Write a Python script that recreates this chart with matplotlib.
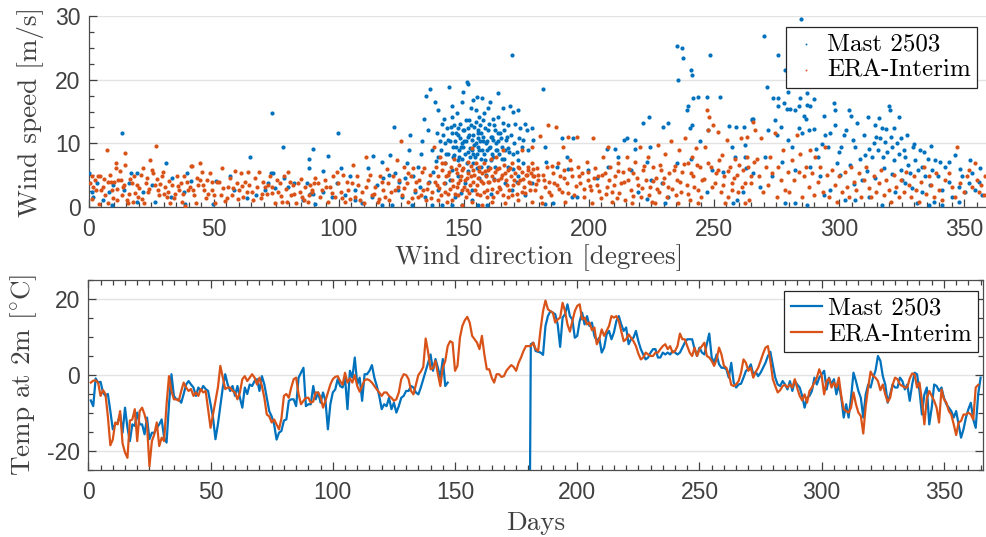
import numpy as np
import matplotlib
matplotlib.use("Agg")
import matplotlib.pyplot as plt
from matplotlib.ticker import MultipleLocator


OUTPUT_FILE = "out.png"

MAST_COLOR = "#0072BD"
ERA_COLOR = "#D95319"
TEXT_COLOR = "#404040"
GRID_COLOR = "#e3e3e3"

nan = float("nan")

# wind direction [deg], wind speed [m/s]
MAST_WIND = [
    (0.1, 5.3), (1.2, 2.4), (1.8, 1.5), (3.2, 3.7), (5.8, 1.1), (8.1, 2.3), (9.2, 0.3), (9.8, 3.5),
    (13.2, 11.7), (14.2, 2.7), (16.2, 3.8), (16.8, 5.3), (19.2, 5.3), (19.4, 0.8), (21.8, 2.4),
    (25.4, 3.5), (26.5, 0.8), (30.8, 6.9), (32.9, 1.5), (33.4, 4.5), (38.2, 2.4), (38.5, 0.4),
    (39.2, 5.3), (40.9, 4.1), (49.8, 0.4), (50.8, 4.1), (56.5, 4.9), (58.1, 2.7), (63.4, 1.4),
    (64.5, 7.9), (66.9, 1.9), (70.5, 2.7), (71.6, 3.7), (72.9, 5.3), (73.2, 14.7), (73.8, 5.3),
    (74.5, 3.0), (77.8, 9.5), (78.1, 4.6), (79.8, 3.2), (82.2, 3.8), (85.8, 1.1), (87.2, 3.7),
    (88.1, 7.5), (88.1, 6.1), (88.5, 2.0), (89.8, 9.1), (89.8, 2.0), (90.5, 0.4),
    (93.8, 5.7), (95.8, 8.0), (99.8, 11.7), (99.2, 3.7), (100.9, 6.1), (102.5, 1.9), (104.5, 4.8),
    (106.5, 1.1), (111.8, 6.1), (113.8, 8.0), (115.2, 3.5), (117.2, 7.1), (117.8, 4.5),
    (120.5, 8.2), (122.2, 12.5), (122.5, 5.3), (123.6, 2.7), (126.5, 4.5), (128.1, 9.0),
    (128.5, 11.3), (129.8, 4.8), (130.5, 2.4), (131.8, 6.3), (133.2, 10.3), (134.2, 13.9),
    (134.8, 17.4), (135.6, 12.1), (136.5, 18.5), (137.2, 9.0), (137.8, 5.5), (138.5, 16.5),
    (139.2, 11.6), (139.8, 15.3), (140.5, 10.3), (141.2, 13.1), (142.2, 13.9), (142.5, 6.9),
    (143.2, 12.4), (144.1, 18.9), (144.5, 10.3), (145.2, 14.2), (145.4, 15.8), (146.2, 12.9),
    (146.8, 9.5), (147.2, 14.7), (147.8, 11.3), (148.1, 9.0), (148.5, 13.1), (149.2, 16.5),
    (149.4, 10.0), (149.8, 18.1), (150.2, 12.1), (150.5, 8.4), (151.2, 19.7), (151.6, 11.0),
    (151.8, 19.3), (152.1, 13.7), (152.5, 9.2), (152.9, 15.5), (153.2, 10.5), (153.8, 16.8),
    (154.2, 12.6), (154.5, 7.9), (154.9, 15.2), (155.2, 17.3), (155.6, 11.6), (155.8, 9.5),
    (156.1, 14.2), (156.5, 12.9), (156.9, 7.6), (157.2, 17.1), (157.8, 10.3), (158.2, 14.7),
    (158.5, 12.4), (159.2, 9.0), (159.6, 15.5), (160.1, 13.1), (160.5, 16.5), (160.9, 11.0),
    (161.2, 8.4), (161.8, 13.9), (162.5, 12.1), (162.8, 10.0), (163.6, 14.2), (163.8, 17.9),
    (164.5, 11.6), (165.2, 9.5), (165.8, 15.5), (166.2, 12.1), (167.2, 11.0), (167.8, 9.2),
    (168.5, 15.8), (169.2, 23.9), (169.8, 15.0), (170.5, 13.1), (171.8, 15.2), (172.5, 12.4),
    (173.2, 9.5), (173.8, 10.5), (174.5, 13.1), (175.2, 12.1), (175.8, 9.0), (177.2, 12.4),
    (177.8, 10.5),
    (142.5, 10.0), (143.8, 8.4), (145.2, 11.6), (145.8, 7.9), (146.5, 10.3), (147.6, 7.4),
    (148.5, 10.8), (149.2, 7.6), (149.8, 9.5), (150.8, 10.3), (151.2, 6.9), (151.8, 12.4),
    (152.5, 7.9), (153.2, 9.0), (153.8, 11.3), (153.8, 6.9), (154.8, 10.0), (155.2, 8.4),
    (155.8, 12.1), (156.5, 10.3), (156.9, 6.3), (157.4, 9.0), (157.8, 11.0), (158.5, 7.4),
    (159.2, 10.3), (159.8, 6.3), (160.5, 9.5), (161.2, 11.0), (161.8, 7.9), (162.5, 6.3),
    (163.2, 9.0), (163.8, 10.3), (165.2, 7.6), (166.5, 9.0), (167.8, 6.3), (169.8, 8.4),
    (171.8, 7.4), (173.8, 6.9), (145.2, 5.8), (147.8, 4.8), (150.5, 3.7), (153.2, 2.7),
    (146.5, 1.6), (142.5, 3.7), (139.8, 2.7), (141.2, 0.3), (145.2, 0.3), (149.2, 0.3),
    (153.2, 1.1), (155.8, 0.3), (159.2, 0.3), (137.2, 0.3), (134.5, 1.6), (132.5, 3.2),
    (129.2, 0.3), (125.2, 1.6), (121.2, 0.3), (117.2, 0.3), (113.2, 1.6), (109.2, 0.6),
    (106.5, 2.7), (93.8, 2.4), (97.2, 1.6), (166.5, 3.7), (169.2, 2.7), (171.8, 4.8),
    (174.5, 1.9), (177.2, 3.7),
    (139.5, 7.9), (140.8, 9.0), (141.8, 11.3), (142.9, 8.4), (143.8, 10.5), (144.8, 12.6),
    (145.5, 9.5), (146.2, 8.2), (146.8, 11.6), (147.5, 12.4), (148.2, 7.9), (148.8, 9.5),
    (149.5, 12.1), (150.2, 10.3), (150.9, 13.6), (151.5, 8.6), (152.2, 11.3), (152.8, 12.9),
    (153.5, 8.4), (154.1, 9.7), (154.8, 13.4), (155.5, 10.8), (156.2, 8.9), (156.9, 11.6),
    (157.5, 13.7), (158.1, 8.4), (158.8, 10.0), (159.5, 12.1), (160.2, 9.2), (160.8, 7.4),
    (161.5, 10.5), (162.1, 12.9), (162.8, 8.9), (163.5, 11.6), (164.2, 8.4), (164.8, 10.8),
    (165.5, 13.2), (166.2, 7.6), (166.9, 10.5), (167.5, 12.9), (168.2, 8.6), (168.9, 11.3),
    (170.1, 10.0), (171.2, 8.6), (172.1, 10.8), (169.5, 6.0), (171.2, 3.9), (151.5, 5.6),
    (155.1, 6.2), (158.8, 5.0), (162.1, 4.4), (144.5, 4.2), (148.8, 2.2), (156.2, 4.6),
    (160.9, 2.0), (136.1, 3.9), (138.9, 7.2), (132.9, 8.4), (127.2, 6.9), (124.1, 3.9),
    (120.1, 5.0),
    (181.8, 18.5), (182.5, 9.5), (182.8, 7.1), (187.2, 6.3), (189.2, 10.9), (191.2, 7.9),
    (191.8, 5.9), (193.8, 10.8), (195.2, 1.6), (199.8, 5.8), (203.2, 4.5), (207.2, 9.1),
    (207.8, 6.3), (210.5, 9.1), (211.8, 7.9), (214.2, 10.5), (215.2, 10.9), (216.9, 5.8),
    (218.5, 10.5), (218.5, 9.1), (219.8, 2.4), (221.8, 13.2), (223.2, 7.1), (224.1, 14.1),
    (224.5, 9.5), (224.9, 4.2), (229.2, 3.8), (229.6, 12.5), (231.6, 13.2), (231.8, 1.6),
    (235.2, 6.9), (235.4, 25.3), (235.6, 19.9), (237.2, 24.9), (237.6, 23.4), (239.2, 15.2),
    (239.8, 15.8), (240.5, 12.4), (240.8, 21.5), (241.4, 20.7), (241.8, 17.1), (241.2, 12.9),
    (240.9, 7.6), (243.8, 17.3), (244.5, 10.3), (247.2, 17.3), (247.6, 12.1), (248.5, 23.8),
    (249.2, 5.8), (252.5, 17.3), (253.8, 5.5), (256.1, 12.8), (257.4, 9.5), (258.5, 7.9),
    (258.8, 12.5), (259.2, 1.1), (261.8, 2.4), (262.2, 12.5), (262.5, 9.8), (262.5, 7.9),
    (262.8, 6.1), (265.2, 13.7), (265.8, 13.9), (185.8, 0.7), (182.5, 0.4), (193.2, 1.5),
    (223.2, 1.2), (230.5, 0.6), (247.2, 2.4), (257.8, 0.6),
    (270.2, 26.9), (275.6, 23.8), (278.5, 21.5), (280.2, 21.8), (282.5, 22.7), (284.9, 29.5),
    (271.3, 18.9), (273.8, 17.1), (275.8, 17.2), (275.8, 15.8), (278.2, 16.3), (279.2, 15.4),
    (279.8, 18.1), (280.5, 15.4), (282.5, 15.2), (283.8, 15.8), (284.5, 17.2), (285.8, 14.3),
    (287.2, 17.9), (288.5, 15.8), (287.2, 16.0), (289.8, 16.9), (265.4, 13.9), (271.8, 12.1),
    (274.5, 13.7), (275.2, 11.3), (276.9, 12.5), (279.6, 10.5), (281.2, 9.5), (283.8, 12.4),
    (285.2, 11.6), (286.8, 13.9), (288.1, 12.1), (289.8, 12.2), (290.8, 9.1), (291.6, 7.9),
    (293.8, 14.3), (294.5, 11.3), (295.6, 9.5), (297.8, 16.3), (298.2, 15.2), (298.5, 12.9),
    (299.2, 6.9), (300.9, 9.5), (301.8, 11.3), (303.8, 15.2), (304.9, 14.3), (306.5, 9.5),
    (308.5, 7.6), (309.8, 11.3), (311.6, 14.1), (312.1, 9.1), (313.2, 7.9), (313.8, 10.0),
    (314.8, 11.0), (315.6, 9.0), (316.5, 10.8), (317.2, 12.4), (317.6, 7.9), (318.5, 10.2),
    (319.2, 8.7), (319.8, 15.8), (320.5, 15.2), (321.2, 9.5), (321.8, 7.4), (323.2, 10.0),
    (323.8, 14.2), (324.1, 8.4), (324.9, 5.8), (325.8, 9.0), (326.5, 7.9), (327.6, 6.6),
    (328.5, 5.3), (329.4, 9.5), (330.5, 7.4), (331.6, 5.8), (332.5, 9.0), (333.2, 6.3),
    (334.5, 4.8), (335.6, 7.6), (336.5, 3.5), (337.2, 5.8), (338.5, 7.4), (339.6, 4.8),
    (341.2, 2.7), (342.2, 6.3), (343.8, 4.0), (345.2, 1.6), (346.5, 8.2), (347.8, 3.2),
    (349.2, 4.8), (350.5, 2.4), (351.8, 3.7), (353.2, 5.3), (354.5, 2.7), (355.8, 4.0),
    (357.2, 1.9), (278.5, 0.6), (282.5, 0.6), (287.2, 0.3), (293.8, 1.9), (302.5, 1.1),
    (306.5, 1.1), (311.8, 1.6), (317.2, 0.3), (322.5, 2.4), (326.5, 3.7), (331.2, 0.6),
    (335.8, 0.3), (337.8, 0.8), (341.2, 0.3), (347.8, 0.8), (265.8, 5.3), (268.5, 3.2),
    (270.5, 7.9), (273.2, 4.8), (277.2, 7.1), (282.5, 5.8), (288.5, 6.3), (292.5, 4.8),
    (296.5, 2.7), (300.5, 5.0), (304.5, 6.6), (309.2, 4.2),
    (293.1, 9.9), (296.2, 11.6), (299.8, 8.6), (302.9, 12.1), (305.5, 10.5), (307.2, 13.2),
    (310.5, 8.2), (314.2, 12.9), (316.1, 14.0), (318.9, 12.2), (320.8, 11.0), (322.1, 12.4),
    (324.9, 10.8), (327.1, 11.3), (330.1, 9.9), (333.9, 8.6), (336.8, 9.6), (340.2, 7.0),
    (344.1, 7.1), (348.5, 6.0), (352.5, 7.4), (356.5, 6.1), (318.1, 6.1), (321.2, 5.2),
    (325.2, 4.2), (329.2, 3.0), (333.1, 2.4), (314.5, 4.5), (311.2, 5.6), (306.1, 3.6),
]

ERA_WIND = [
    (0.5, 3.7), (1.2, 4.9), (1.8, 3.2), (2.5, 4.2), (3.6, 4.9), (4.5, 4.9), (4.9, 2.7), (5.8, 3.2),
    (6.5, 1.9), (7.2, 9.0), (7.6, 0.6), (7.8, 4.0), (8.5, 5.0), (9.2, 2.7), (10.2, 4.0), (10.8, 6.9),
    (10.8, 6.1), (11.2, 1.1), (11.8, 4.3), (12.9, 4.3), (13.4, 1.9), (14.2, 3.5), (14.5, 8.5),
    (14.5, 6.6), (15.2, 1.1), (15.6, 0.6), (16.1, 2.1), (17.2, 3.7), (17.8, 0.8), (18.2, 4.8),
    (19.2, 3.5), (19.8, 1.6), (20.9, 5.0), (21.8, 6.2), (22.2, 0.7), (22.8, 3.7), (23.6, 2.3),
    (24.5, 7.4), (25.2, 5.8), (25.8, 5.3), (26.5, 3.5), (26.8, 9.6), (27.6, 2.7), (28.1, 1.9),
    (29.2, 4.8), (29.8, 5.5), (30.5, 3.2), (31.2, 1.6), (31.8, 2.3), (32.5, 0.7), (33.4, 3.5),
    (34.5, 2.1), (35.2, 4.9), (36.1, 2.7), (36.9, 3.7), (37.4, 0.8), (38.2, 4.8), (38.5, 0.1),
    (39.6, 2.7), (40.5, 3.2), (40.9, 6.5), (41.4, 6.5), (42.2, 1.9), (42.9, 0.6), (43.6, 3.5),
    (44.5, 6.9), (44.5, 4.2), (45.2, 5.5), (45.8, 3.5), (46.8, 1.4), (47.6, 2.1), (48.5, 5.3),
    (49.4, 2.7), (50.5, 0.7), (51.2, 3.9), (52.1, 3.9), (52.9, 1.9), (53.2, 6.2), (54.5, 0.9),
    (55.6, 3.2), (56.5, 4.5), (57.2, 1.9), (58.5, 5.7), (59.2, 3.7), (60.1, 2.6), (60.9, 5.3),
    (61.8, 1.6), (62.5, 4.0), (63.8, 5.5), (64.1, 3.5), (65.2, 2.4), (65.8, 1.1), (67.2, 3.2),
    (68.1, 5.5), (69.2, 2.1), (69.8, 4.0), (71.2, 2.1), (71.6, 3.5), (72.5, 4.8), (73.4, 3.2),
    (74.5, 0.7), (75.6, 2.3), (76.5, 3.7), (77.4, 0.8), (78.2, 4.8), (79.2, 0.8), (79.8, 5.5),
    (80.9, 1.9), (81.8, 3.5), (82.8, 0.6), (83.8, 3.7), (84.5, 2.4), (85.4, 1.6), (86.5, 3.2),
    (87.6, 0.8), (88.5, 3.5), (89.4, 2.7), (90.2, 3.7),
    (1.5, 1.2), (2.8, 2.6), (4.1, 0.5), (6.1, 4.4), (8.9, 3.9), (9.8, 1.4), (11.5, 2.9),
    (12.4, 5.7), (13.8, 3.1), (16.6, 4.4), (18.6, 2.2), (20.2, 3.0), (21.3, 1.2), (23.1, 4.6),
    (24.2, 2.9), (27.1, 4.4), (28.6, 3.6), (30.1, 2.1), (32.1, 4.1), (34.1, 1.4), (35.8, 3.3),
    (37.8, 2.0), (39.1, 4.0), (41.8, 2.6), (43.2, 4.6), (46.2, 2.7), (47.1, 4.2), (49.1, 3.9),
    (50.1, 1.9), (53.8, 3.0), (55.1, 1.4), (57.8, 3.0), (59.8, 1.2), (61.2, 3.3), (63.2, 2.4),
    (66.4, 4.6), (68.8, 1.4), (70.5, 3.2), (73.1, 2.2), (75.1, 4.2), (76.9, 1.7), (78.8, 2.9),
    (80.3, 3.9), (82.2, 2.1), (84.9, 4.4), (86.1, 1.1), (88.1, 1.9),
    (89.2, 2.4), (90.5, 4.5), (91.8, 3.7), (93.2, 2.7), (94.5, 4.2), (95.6, 0.8), (96.5, 3.2),
    (97.8, 4.9), (98.5, 1.6), (99.8, 3.7), (100.9, 2.4), (101.8, 5.0), (102.5, 0.8), (103.8, 2.7),
    (105.2, 3.7), (105.8, 6.6), (106.5, 1.6), (107.8, 3.5), (109.2, 2.4), (110.2, 0.6),
    (110.9, 7.9), (111.8, 4.2), (113.2, 1.9), (114.5, 3.2), (115.6, 0.8), (116.5, 4.8),
    (117.8, 2.7), (118.5, 1.6), (119.8, 3.7), (120.9, 2.4), (121.8, 4.8), (123.2, 7.4),
    (123.6, 3.2), (124.9, 10.4), (125.2, 1.9), (126.2, 6.3), (127.2, 3.7), (127.8, 0.8),
    (128.9, 4.8), (129.8, 6.1), (130.5, 2.7), (131.6, 1.6), (132.1, 4.2), (133.2, 5.5),
    (133.8, 2.7), (134.8, 1.1), (135.6, 3.7), (136.5, 5.0), (137.2, 2.4), (138.2, 9.5),
    (138.8, 6.3), (139.2, 3.5), (139.8, 4.8), (140.5, 7.9), (140.9, 1.9), (141.4, 5.8),
    (142.2, 3.7), (142.5, 6.9), (143.2, 0.8), (143.8, 5.0), (144.5, 2.9), (144.9, 6.3),
    (145.4, 4.2), (146.2, 7.6), (146.5, 2.1), (147.2, 5.3), (147.8, 3.7), (148.1, 6.6),
    (148.9, 4.8), (149.4, 2.7), (149.8, 6.1), (150.5, 4.2), (150.8, 1.6), (151.6, 5.3),
    (151.8, 7.1), (152.5, 3.5), (152.9, 4.8), (153.4, 9.2), (153.8, 5.8), (154.5, 2.7),
    (154.8, 6.9), (155.6, 4.5), (156.1, 6.3), (156.5, 1.9), (157.2, 5.3), (157.6, 3.7),
    (158.2, 6.9), (158.8, 4.8), (159.2, 2.7), (159.8, 5.8), (160.2, 4.0), (160.9, 7.6),
    (161.4, 4.8), (161.8, 1.6), (162.5, 5.5), (162.8, 7.9), (163.6, 4.2), (164.1, 6.1),
    (164.5, 2.9), (165.2, 5.0), (165.8, 9.0), (166.2, 6.6), (166.8, 4.2), (167.6, 5.8),
    (168.1, 2.7), (168.9, 4.8), (169.4, 6.9), (169.8, 3.5), (170.5, 5.3), (171.2, 2.1),
    (171.8, 6.3), (172.5, 4.2), (173.2, 9.0), (173.4, 5.5), (174.2, 3.2), (174.8, 5.0),
    (175.6, 6.3), (176.1, 4.0), (176.9, 5.3), (177.4, 9.5), (178.2, 4.8), (145.2, 1.1),
    (149.2, 0.3), (153.2, 0.8), (157.2, 0.3), (161.2, 0.8), (166.5, 0.6), (171.8, 1.1),
    (177.2, 0.8), (142.5, 2.4), (147.2, 3.2), (151.2, 2.7), (155.2, 3.5), (159.2, 1.6),
    (163.2, 2.4), (167.8, 1.6), (173.2, 2.4),
    (92.5, 1.5), (94.9, 3.1), (97.2, 2.2), (99.1, 5.5), (101.2, 1.4), (103.1, 4.0),
    (104.5, 1.2), (107.1, 4.9), (108.5, 1.1), (110.9, 3.1), (112.5, 5.1), (114.2, 2.1),
    (116.1, 1.2), (117.2, 3.9), (119.1, 5.9), (120.2, 1.1), (122.5, 2.6), (124.2, 4.2),
    (125.9, 3.0), (127.5, 5.3), (129.2, 1.4), (130.9, 4.0), (132.8, 1.9), (134.2, 6.1),
    (135.1, 2.9), (136.9, 1.4), (138.5, 4.0), (139.5, 1.1),
    (140.2, 3.0), (141.1, 6.9), (142.8, 4.8), (143.5, 2.0), (144.2, 5.5), (145.8, 3.3),
    (146.9, 6.0), (147.5, 1.9), (148.4, 4.2), (149.1, 5.8), (150.1, 3.2), (151.1, 4.6),
    (152.2, 2.2), (152.9, 6.4), (153.6, 3.9), (154.2, 5.1), (155.1, 2.1), (155.9, 5.6),
    (156.8, 4.1), (157.9, 2.4), (158.5, 5.6), (159.5, 3.9), (160.5, 6.1), (161.1, 2.9),
    (162.2, 4.3), (163.1, 5.9), (163.9, 3.1), (164.8, 4.5), (165.5, 1.9), (166.5, 5.3),
    (167.2, 3.4), (168.5, 6.1), (169.1, 1.9), (170.1, 4.2), (171.5, 3.7), (172.2, 6.1),
    (173.8, 4.4), (174.5, 2.2), (175.2, 5.0), (176.5, 2.6), (177.8, 6.0), (178.8, 3.6),
    (179.5, 5.0),
    (175.8, 5.8), (176.5, 3.7), (177.2, 6.9), (177.8, 4.8), (178.5, 2.7), (179.2, 6.1),
    (179.8, 4.2), (180.5, 11.2), (180.9, 1.6), (181.8, 5.0), (182.5, 3.2), (183.2, 6.3),
    (183.8, 12.9), (184.1, 4.0), (184.9, 1.9), (185.8, 5.3), (186.8, 12.6), (187.2, 3.5),
    (187.8, 6.9), (188.5, 4.8), (189.2, 2.4), (189.8, 9.5), (190.2, 5.8), (191.2, 3.7),
    (191.8, 11.0), (192.5, 7.4), (193.2, 4.8), (194.2, 1.9), (195.2, 11.0), (195.8, 6.3),
    (196.5, 3.7), (197.4, 5.3), (198.2, 1.6), (199.2, 7.1), (199.8, 4.2), (200.9, 2.7),
    (201.6, 10.8), (202.5, 6.1), (203.2, 3.5), (203.8, 4.8), (204.9, 1.4), (205.8, 7.9),
    (206.5, 5.3), (207.2, 3.2), (207.8, 9.5), (208.5, 6.3), (209.4, 2.4), (210.5, 4.8),
    (211.2, 1.4), (211.8, 6.9), (212.9, 3.7), (213.8, 5.5), (214.5, 1.1), (215.2, 7.9),
    (215.8, 4.2), (216.9, 2.7), (217.8, 5.3), (218.5, 7.1), (219.6, 3.5), (220.5, 9.5),
    (220.9, 1.6), (221.8, 5.8), (222.8, 4.2), (223.6, 7.9), (224.5, 3.2), (225.2, 0.8),
    (225.8, 6.3), (226.8, 4.5), (227.6, 9.7), (228.1, 2.4), (228.9, 5.8), (229.8, 3.7),
    (230.5, 8.4), (231.2, 1.6), (232.1, 5.3), (232.9, 10.3), (233.4, 2.9), (234.5, 6.5),
    (235.2, 4.2), (236.1, 9.0), (236.9, 2.4), (237.4, 5.5), (238.5, 10.8), (239.2, 3.5),
    (239.8, 6.9), (240.5, 1.1), (241.2, 7.9), (241.8, 4.8), (242.8, 9.2), (243.6, 2.7),
    (244.5, 6.3), (245.2, 4.2), (246.5, 9.5), (247.2, 15.2), (247.8, 12.1), (248.1, 14.2),
    (248.9, 6.3), (249.8, 12.9), (250.5, 3.7), (251.6, 11.8), (251.8, 5.8), (252.9, 2.4),
    (253.4, 8.2), (254.2, 4.8), (255.2, 10.5), (255.8, 1.6), (256.5, 6.3), (257.4, 3.7),
    (258.5, 7.6), (259.2, 5.0), (259.8, 2.4), (260.9, 10.8), (261.8, 5.8), (262.5, 3.7),
    (263.2, 7.9), (264.1, 1.1), (264.9, 4.8), (265.8, 13.4), (266.2, 7.1), (181.2, 0.6),
    (190.5, 0.8), (201.2, 0.6), (209.2, 0.8), (217.2, 0.6), (226.5, 0.6), (235.8, 0.7),
    (243.8, 0.6), (254.5, 0.7), (262.5, 0.6),
    (182.1, 4.2), (183.9, 2.4), (185.2, 6.4), (186.1, 3.8), (188.1, 2.9), (189.9, 4.6),
    (191.5, 2.2), (192.9, 5.9), (194.8, 3.3), (196.1, 4.8), (197.9, 2.8), (199.5, 5.5),
    (200.5, 3.3), (202.1, 4.5), (204.2, 2.5), (205.2, 5.0), (206.9, 2.0), (208.2, 4.3),
    (209.9, 3.5), (211.5, 5.6), (212.2, 2.2), (214.1, 3.9), (216.2, 5.9), (217.5, 1.8),
    (219.1, 4.5), (221.2, 3.0), (222.2, 6.4), (223.9, 1.9), (225.5, 4.1), (227.1, 2.9),
    (228.5, 6.6), (230.1, 4.6), (231.8, 3.2), (233.9, 5.8), (234.9, 1.9), (236.5, 4.0),
    (238.1, 6.7), (239.5, 2.1), (240.9, 5.3), (242.2, 3.1), (243.2, 6.6), (244.9, 1.6),
    (246.1, 4.4), (247.5, 6.9), (249.2, 3.1), (250.9, 5.3), (252.2, 7.4), (253.8, 3.5),
    (255.5, 5.6), (257.1, 2.6), (258.1, 4.6), (260.1, 6.6), (261.2, 3.1),
    (263.2, 11.0), (263.8, 6.3), (264.9, 3.7), (266.5, 12.1), (267.2, 7.6), (268.1, 4.8),
    (268.9, 10.8), (269.8, 2.4), (270.8, 6.3), (271.8, 3.5), (272.5, 7.9), (273.4, 5.3),
    (274.5, 11.6), (275.2, 1.6), (275.8, 6.3), (276.9, 4.2), (277.8, 9.0), (278.5, 2.7),
    (279.6, 5.5), (280.1, 2.4), (281.2, 7.4), (282.2, 4.2), (283.2, 11.3), (283.8, 5.5),
    (284.5, 8.4), (285.2, 1.6), (285.8, 4.8), (286.8, 6.3), (287.8, 3.2), (288.5, 9.0),
    (289.2, 5.3), (289.8, 1.9), (290.5, 7.9), (291.6, 4.0), (292.5, 6.3), (293.4, 2.4),
    (294.5, 9.5), (295.2, 5.0), (296.1, 1.6), (297.2, 5.8), (298.2, 3.5), (299.2, 0.8),
    (299.8, 4.8), (301.2, 2.4), (302.2, 5.5), (303.2, 3.2), (303.8, 1.6), (304.9, 6.3),
    (305.8, 4.0), (306.8, 2.7), (307.8, 5.3), (308.9, 1.6), (309.8, 4.2), (310.8, 6.3),
    (311.8, 3.0), (312.9, 1.6), (313.8, 4.8), (314.8, 2.4), (315.8, 3.7), (316.9, 5.8),
    (317.8, 1.9), (318.8, 4.2), (319.8, 2.7), (320.9, 0.8), (321.8, 5.0), (322.8, 3.2),
    (323.8, 1.6), (324.9, 4.2), (325.8, 2.4), (326.8, 5.5), (327.8, 3.5), (328.9, 1.6),
    (329.8, 4.8), (330.8, 2.7), (331.8, 0.8), (332.9, 4.0), (333.8, 6.3), (334.8, 2.1),
    (335.8, 4.8), (336.9, 3.5), (337.8, 1.6), (338.8, 5.3), (339.8, 2.7), (341.2, 1.1),
    (342.5, 4.2), (343.8, 5.3), (345.2, 3.2), (346.5, 1.6), (347.3, 9.5), (348.5, 3.7),
    (349.8, 2.4), (351.2, 4.8), (352.1, 5.8), (353.2, 3.2), (354.2, 6.9), (355.2, 4.2),
    (355.8, 2.4), (356.9, 3.5), (357.8, 1.9), (358.5, 4.8),
]

# daily temperature at 2 m [deg C], day 1 onwards
MAST_TEMP = [
    -6.7, -8.2, -0.9, -2.0, -1.8, -4.6, -5.5, -5.0, -9.5, -14.3,
    -13.0, -12.5, -10.4, -15.2, -8.6, -13.9, -17.4, -13.0, -13.4, -9.9,
    -13.0, -13.0, -15.6, -11.2, -16.9, -15.2, -15.2, -13.9, -13.0, -11.7,
    -16.5, -17.8, -7.7, 0.2, -5.5, -6.4, -6.4, -7.3, -5.0, -2.5,
    -1.6, -2.5, -3.3, -5.5, -3.3, -4.2, -2.9, -3.7, -4.2, -7.7,
    -11.2, -16.9, -13.0, -8.2, -3.3, 0.2, -2.5, -4.2, -2.9, -5.5,
    -2.9, -6.0, -8.6, -3.3, -5.0, -2.5, -2.9, -1.6, -1.1, -4.2,
    -0.3, -2.5, -6.0, -9.5, -10.9, -13.0, -17.0, -15.2, -14.7, -12.0,
    -11.7, -6.8, -6.4, -6.4, -8.2, -0.7, 0.6, 1.9, -8.2, -7.7,
    -7.7, -2.9, -6.4, -4.6, -7.3, -4.6, -6.8, -14.3, -7.7, -4.6,
    -3.8, -1.1, -2.9, -3.3, -0.7, -9.0, 1.1, -0.7, 4.6, -2.5,
    -0.7, -6.8, 0.2, 0.2, 1.1, 2.6, -0.7, -2.9, -5.5, -9.0,
    -7.7, -8.2, -6.0, -9.0, -7.3, -9.9, -8.2, -6.0, -5.5, -4.2,
    -4.2, -2.9, -3.3, -4.6, -5.1, -3.3, -1.1, 1.1, 3.2, 5.4,
    1.1, 4.2, 1.9, -0.7, 4.2, -2.9, -2.0, nan, nan, nan,
    nan, nan, nan, nan, nan, nan, nan, nan, nan, nan,
    nan, nan, nan, nan, nan, nan, nan, nan, nan, nan,
    nan, nan, nan, nan, nan, nan, nan, nan, nan, -99.0,
    8.1, 8.5, 6.3, 6.1, 5.9, 5.3, 12.9, 15.5, 16.8, 16.4,
    16.0, 13.3, 7.4, 15.1, 16.0, 18.6, 15.5, 14.6, 9.8, 10.3,
    14.2, 16.4, 13.3, 15.5, 12.9, 13.8, 10.3, 8.9, 9.8, 5.9,
    7.2, 10.7, 11.6, 9.4, 11.2, 14.2, 15.5, 13.3, 11.6, 12.5,
    8.1, 9.4, 9.8, 11.6, 8.9, 6.8, 5.4, 4.1, 4.6, 5.9,
    6.8, 6.8, 4.6, 4.6, 5.9, 5.4, 5.9, 5.4, 6.3, 5.9,
    5.4, 5.9, 7.2, 8.5, 9.4, 9.4, 9.4, 6.8, 5.0, 7.2,
    5.9, 5.4, 8.1, 10.9, 4.6, 3.2, 5.4, 2.8, 1.9, 1.9,
    1.5, -0.7, 3.2, -2.0, -3.3, -2.5, -2.3, -0.7, 1.1, 1.5,
    2.8, 0.2, 0.8, -0.3, 0.6, 1.9, 3.2, 5.0, 6.1, 2.6,
    -0.7, -2.5, -2.9, -1.6, -2.5, -3.8, -1.6, -4.2, -1.6, -2.5,
    -3.3, -5.5, -8.6, -6.0, -5.5, -4.2, -0.7, -2.5, -0.7, 0.2,
    1.1, -3.8, -0.7, -2.5, -1.1, -5.1, -2.5, -6.0, -11.2, -7.7,
    -11.2, -6.0, 0.6, -1.6, -4.2, -6.0, -11.2, -5.1, -2.5, -3.3,
    -0.7, 1.1, 5.0, 3.7, -0.3, -2.5, -7.3, -5.1, -2.5, -3.3,
    -3.3, -0.7, -1.6, -3.8, -2.5, -6.8, -2.5, 0.6, 0.2, -4.2,
    -10.4, -5.1, -3.3, -13.0, -8.6, -2.5, -2.9, -4.2, -3.3, -6.0,
    -7.7, -8.6, -9.5, -11.2, -9.5, -13.0, -16.5, -14.3, -11.2, -9.0,
    -7.3, -11.7, -13.9, -5.1, -0.7,
]

ERA_TEMP = [
    -2.0, -1.5, -1.4, -2.0, -5.5, -4.0, -5.0, -11.0, -18.5, -17.0,
    -12.5, -13.0, -9.5, -18.0, -20.4, -21.8, -12.0, -11.7, -9.0, -17.4,
    -9.5, -8.6, -10.4, -13.0, -24.0, -17.4, -15.6, -12.5, -18.7, -16.5,
    -17.4, -7.7, -0.3, -4.2, -6.4, -6.4, -6.8, -4.2, -2.0, -3.3,
    -4.2, -3.7, -5.5, -4.6, -5.5, -3.7, -4.6, -4.2, -9.0, -13.9,
    -10.4, -6.8, -3.3, 2.4, -0.7, -3.7, -3.3, -3.3, -4.2, -4.6,
    -6.4, -4.6, -1.1, -0.3, -1.6, -0.7, 0.2, -0.7, -2.5, -0.7,
    -2.9, -6.0, -10.4, -10.9, -12.5, -11.7, -13.0, -14.3, -11.4, -5.5,
    -5.0, -6.0, -3.3, -1.1, -0.7, -5.0, -7.7, -6.8, -6.0, -6.0,
    -7.3, -7.0, -4.6, -4.6, -5.8, -8.6, -6.8, -4.6, -2.5, -1.1,
    -0.5, -0.3, -1.6, -2.6, 0.6, -2.0, -0.9, -2.0, 0.0, -2.9,
    -4.4, -2.9, -1.4, -1.1, -1.4, -2.0, -2.9, -3.8, -4.6, -5.5,
    -4.6, -4.6, -5.5, -6.0, -6.8, -6.4, -4.6, -1.1, 0.2, 0.0,
    -1.1, -4.2, -5.1, -2.5, 0.0, 0.9, 2.1, 9.6, 6.0, 1.5,
    1.8, 3.7, 0.2, -2.9, 1.9, 3.7, 7.6, 8.9, 8.5, 1.1,
    2.4, 9.8, 12.9, 14.4, 15.3, 13.8, 10.3, 9.4, 8.5, 6.8,
    10.3, 5.4, 1.5, 1.5, -0.7, -2.0, 0.2, 0.2, -0.5, -0.3,
    1.1, 1.9, 2.6, 2.1, 1.1, 3.2, 4.6, 6.3, 7.6, 7.6,
    7.6, 8.5, 6.8, 6.3, 12.0, 16.8, 19.6, 17.3, 16.8, 16.4,
    13.8, 14.6, 15.1, 19.0, 16.8, 13.3, 11.4, 14.2, 16.8, 18.2,
    18.6, 14.6, 15.1, 13.3, 13.8, 11.8, 12.5, 8.1, 9.4, 12.0,
    10.3, 11.6, 12.9, 15.5, 15.1, 15.5, 14.2, 11.6, 8.9, 9.4,
    10.7, 9.8, 8.9, 7.6, 5.6, 4.1, 4.6, 5.9, 5.4, 5.0,
    5.0, 5.9, 5.9, 6.8, 7.6, 8.1, 6.8, 7.6, 5.9, 6.3,
    7.6, 10.9, 9.4, 9.4, 7.6, 5.9, 5.0, 7.2, 5.0, 6.8,
    7.6, 8.5, 5.0, 4.6, 3.7, 2.4, 4.1, 7.2, 5.4, 2.4,
    1.9, 0.2, -2.6, -2.9, -2.5, -1.6, 0.6, 4.1, 3.2, 1.1,
    1.9, -0.7, 0.8, 1.9, 3.7, 5.6, 7.2, 7.6, 3.7, -1.1,
    -2.9, -4.6, -4.0, -2.9, -2.6, -3.3, -2.5, -3.3, -1.1, -3.5,
    -5.5, -6.7, -5.1, -7.3, -4.2, -3.3, -2.0, -0.7, 1.5, -0.3,
    -5.1, -1.6, -0.9, -3.3, -2.0, -3.3, -0.7, -5.5, -9.0, -9.5,
    -9.9, -8.6, -4.6, -7.7, -9.9, -10.8, -15.4, -8.2, -3.3, 0.9,
    -0.3, -0.7, -1.6, -4.0, -2.5, -5.1, -7.1, -6.0, -2.6, -0.7,
    -1.1, -2.5, -2.9, -3.3, -3.3, -0.9, 0.4, 0.2, -3.3, -2.0,
    -6.8, -13.0, -6.1, -4.2, -5.5, -6.8, -8.6, -12.5, -3.8, -6.4,
    -7.3, -9.5, -10.4, -13.0, -15.8, -12.5, -12.1, -10.4, -10.4, -9.9,
    -10.4, -11.7, -3.3, -2.6,
]

SERIES_LABELS = ["Mast 2503", "ERA-Interim"]

LABEL_SIZE = 19.5
LEGEND_SIZE = 18
TICK_SIZE = 16.5


def style_axes(ax):
    ax.tick_params(which="both", direction="in", colors=TEXT_COLOR,
                   labelsize=TICK_SIZE, width=0.9)
    ax.tick_params(which="major", length=6, pad=6)
    ax.tick_params(which="minor", length=3.5)
    ax.tick_params(axis="x", which="major", pad=8)
    ax.yaxis.grid(True, color=GRID_COLOR, linewidth=1.0)
    ax.set_axisbelow(True)
    for spine in ax.spines.values():
        spine.set_color("#4d4d4d")
        spine.set_linewidth(0.9)
    for label in ax.get_xticklabels() + ax.get_yticklabels():
        label.set_fontfamily("Liberation Sans")


def add_legend(ax, anchor, **kwargs):
    leg = ax.legend(loc="upper right", bbox_to_anchor=anchor, borderaxespad=0,
                    fancybox=False, edgecolor="#262626",
                    prop={"family": "cmr10", "size": LEGEND_SIZE},
                    borderpad=0.25, labelspacing=0.15, framealpha=1, **kwargs)
    leg.get_frame().set_linewidth(0.9)


def plot_wind(ax):
    mast = np.array(MAST_WIND)
    era = np.array(ERA_WIND)
    ax.scatter(mast[:, 0], mast[:, 1], s=9, color=MAST_COLOR, linewidths=0,
               label=SERIES_LABELS[0], zorder=3)
    ax.scatter(era[:, 0], era[:, 1], s=9, color=ERA_COLOR, linewidths=0,
               label=SERIES_LABELS[1], zorder=3)

    ax.set_xlim(0, 360)
    ax.set_ylim(0, 30)
    ax.xaxis.set_major_locator(MultipleLocator(50))
    ax.xaxis.set_minor_locator(MultipleLocator(5))
    ax.yaxis.set_major_locator(MultipleLocator(10))
    ax.yaxis.set_minor_locator(MultipleLocator(2.5))
    ax.spines["top"].set_visible(False)
    ax.spines["right"].set_visible(False)
    style_axes(ax)

    ax.set_xlabel("Wind direction [degrees]", fontfamily="cmr10",
                  fontsize=LABEL_SIZE, color=TEXT_COLOR, labelpad=2)
    ax.set_ylabel("Wind speed [m/s]", fontfamily="cmr10", fontsize=LABEL_SIZE,
                  color=TEXT_COLOR)
    ax.yaxis.set_label_coords(-0.05, 0.5)

    add_legend(ax, (0.9867, 0.944), markerscale=0.45, handlelength=1.1,
               handletextpad=0.3)


def plot_temp(ax):
    mast_days = np.arange(1, len(MAST_TEMP) + 1)
    era_days = np.arange(1, len(ERA_TEMP) + 1)
    ax.plot(mast_days, MAST_TEMP, color=MAST_COLOR, linewidth=1.6,
            label=SERIES_LABELS[0])
    ax.plot(era_days, ERA_TEMP, color=ERA_COLOR, linewidth=1.6,
            label=SERIES_LABELS[1])

    ax.set_xlim(0, 366)
    ax.set_ylim(-25, 25)
    ax.xaxis.set_major_locator(MultipleLocator(50))
    ax.xaxis.set_minor_locator(MultipleLocator(5))
    ax.yaxis.set_major_locator(MultipleLocator(20))
    ax.yaxis.set_minor_locator(MultipleLocator(5))
    ax.tick_params(which="both", top=True, right=True)
    style_axes(ax)

    ax.set_xlabel("Days", fontfamily="cmr10", fontsize=LABEL_SIZE,
                  color=TEXT_COLOR, labelpad=5)
    ax.set_ylabel("Temp at 2m [$^{\\circ}$C]", fontfamily="cmr10",
                  fontsize=LABEL_SIZE, color=TEXT_COLOR)
    ax.yaxis.set_label_coords(-0.055, 0.5)

    add_legend(ax, (0.9944, 0.942), handlelength=1.25, handletextpad=0.25)


def main():
    plt.rcParams["mathtext.fontset"] = "cm"
    plt.rcParams["axes.unicode_minus"] = False

    fig = plt.figure(figsize=(9.87, 5.37), dpi=100)
    ax_wind = fig.add_axes([0.0899, 0.6145, 0.9122, 0.3557])
    ax_temp = fig.add_axes([0.0895, 0.1248, 0.9065, 0.3538])

    plot_wind(ax_wind)
    plot_temp(ax_temp)

    fig.savefig(OUTPUT_FILE, dpi=100)
    print(f"Mast days: {len(MAST_TEMP)}, ERA days: {len(ERA_TEMP)}")


if __name__ == "__main__":
    main()
